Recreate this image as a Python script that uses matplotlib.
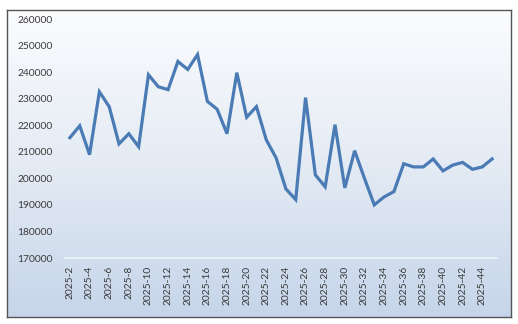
import numpy as np
import matplotlib
matplotlib.use("Agg")
import matplotlib.pyplot as plt
from matplotlib.colors import LinearSegmentedColormap

# weekly values, 2025-2 .. 2025-45
weeks = list(range(2, 46))
values = [215300, 219800, 208900, 232600, 227000, 213000, 216800, 211900,
          239000, 234500, 233400, 244000, 241000, 246600, 229000, 226000,
          216800, 239800, 223000, 227000, 214500, 207700, 196000, 192000,
          230400, 201300, 196800, 220200, 196400, 210400, 200000, 190000,
          193000, 195000, 205500, 204300, 204300, 207300, 202800, 205000,
          206000, 203400, 204300, 207300]
labels = ["2025-%d" % w for w in weeks]
yticks = list(range(170000, 260001, 10000))

plt.rcParams["font.family"] = ["Lato", "DejaVu Sans"]

W, H = 518, 324
fig = plt.figure(figsize=(W / 100, H / 100), dpi=100)
fig.patch.set_facecolor("white")

# framed chart area with a vertical white -> light blue gradient
bg = fig.add_axes([7 / W, 1 - 317 / H, 504 / W, 307 / H])
cmap = LinearSegmentedColormap.from_list("bg", ["#fbfcfe", "#e4ebf4", "#c6d5ea"])
grad = np.linspace(0, 1, 256).reshape(-1, 1)
bg.imshow(grad, aspect="auto", cmap=cmap, extent=[0, 1, 0, 1], origin="upper")
bg.set_xticks([])
bg.set_yticks([])
for s in bg.spines.values():
    s.set_color("#555555")
    s.set_linewidth(1.0)

ax = fig.add_axes([65 / W, 1 - 258 / H, 432 / W, 239 / H])
ax.patch.set_alpha(0)
x = np.arange(len(values))
ax.plot(x, values, color="#4a7bb5", lw=2.3, solid_joinstyle="miter")

ax.set_xlim(-0.5, len(values) - 0.5)
ax.set_ylim(170000, 260000)
ax.set_yticks(yticks)
ax.set_yticklabels([str(v) for v in yticks])
ax.set_xticks(x[::2])
ax.set_xticklabels(labels[::2], rotation=90)
ax.tick_params(axis="both", length=0, labelsize=7.4, colors="#3a3a3a")
ax.tick_params(axis="y", pad=9)
ax.tick_params(axis="x", pad=5.5)

for side in ["top", "right", "left"]:
    ax.spines[side].set_visible(False)
ax.spines["bottom"].set_color("#e8eef6")
ax.spines["bottom"].set_linewidth(1.5)

fig.savefig("out.png", dpi=100)
